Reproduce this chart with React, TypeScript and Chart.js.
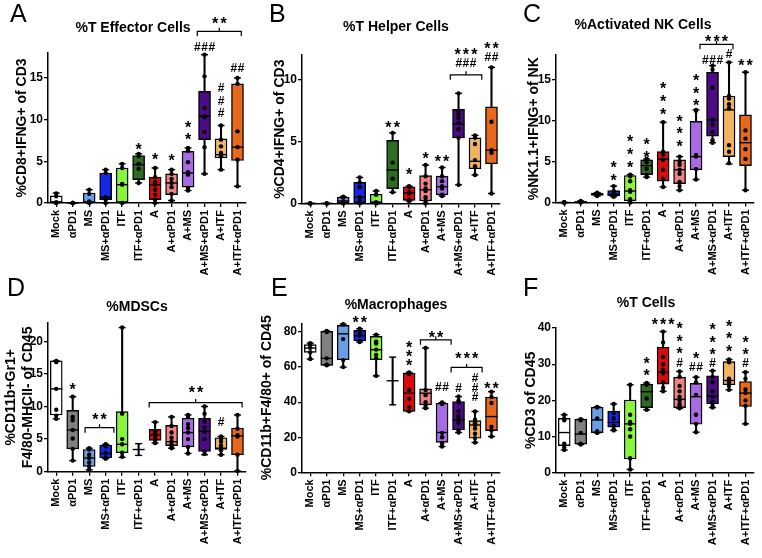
import React, { useEffect, useRef } from 'react';
import { Chart, registerables } from 'chart.js';
Chart.register(...registerables);

const FONT = '"Liberation Sans", Arial, Helvetica, sans-serif';

const categories = ['Mock', 'αPD1', 'MS', 'MS+αPD1', 'ITF', 'ITF+αPD1', 'A', 'A+αPD1', 'A+MS', 'A+MS+αPD1', 'A+ITF', 'A+ITF+αPD1'];
const boxColors = ['#ffffff', '#808080', '#6a9fe8', '#1428e6', '#86f53c', '#2f6b22', '#dc0a0a', '#ee8484', '#a96be3', '#4d0c86', '#f3b264', '#e8681e'];

// [min, q1, median, q3, max] per category
const effectorStats = [
  [0, 0, 0.1, 0.85, 1.2], [0, 0, 0, 0, 0], [0, 0, 0.1, 1.2, 1.6], [0, 0.4, 0.7, 3.6, 4.0],
  [0, 0, 2.2, 4.2, 4.7], [2.4, 2.8, 4.6, 5.7, 5.9], [0, 0.4, 2.2, 3.1, 4.2], [0.3, 1.0, 2.4, 3.5, 4.0],
  [1.5, 1.9, 3.6, 6.2, 6.6], [3.5, 7.6, 10.4, 13.4, 17.8], [4.0, 5.4, 5.8, 7.7, 9.3], [2.0, 5.1, 6.7, 14.3, 15.0],
];
const effectorPoints = [
  [1.15, 0.8, 0.1, 0], [0, 0, 0, 0], [1.6, 1.1, 0.2, 0], [4.0, 3.6, 0.7, 0.4, 0],
  [4.7, 4.2, 2.3, 2.2, 0], [5.9, 5.6, 4.7, 4.1, 2.4], [4.2, 3.1, 2.5, 2.2, 1.6, 1.0, 0.4, 0], [4.0, 3.5, 2.9, 2.4, 1.9, 1.1, 0.3],
  [6.6, 6.3, 4.9, 3.7, 3.4, 1.8, 1.5], [17.8, 15.2, 11.4, 10.4, 10.3, 8.5, 6.7, 3.5], [9.3, 7.6, 6.8, 6.0, 5.8, 5.6, 4.0], [15.0, 14.3, 8.6, 6.7, 5.2, 2.0],
];
const helperStats = [
  [0, 0, 0, 0, 0], [0, 0, 0, 0, 0], [0, 0, 0.2, 0.5, 0.55], [0, 0, 0.5, 1.7, 2.1],
  [0, 0, 0.1, 0.75, 1.0], [0.9, 1.2, 2.7, 5.1, 5.7], [0.2, 0.25, 0.85, 1.35, 1.4], [0, 0.2, 1.1, 2.25, 3.1],
  [0.6, 0.7, 1.35, 2.2, 2.9], [1.5, 5.3, 6.4, 7.6, 8.9], [2.3, 2.8, 3.4, 5.3, 5.5], [0.8, 3.2, 4.3, 7.8, 11.0],
];
const helperPoints = [
  [0, 0, 0], [0, 0, 0], [0.55, 0.45, 0.1, 0], [2.1, 1.7, 1.3, 0.5, 0.2, 0],
  [1.0, 0.7, 0.1, 0], [5.7, 3.3, 2.0, 0.9], [1.4, 1.3, 0.9, 0.8, 0.3, 0.2], [3.1, 2.2, 1.6, 1.2, 1.0, 0.5, 0.2, 0],
  [2.9, 2.2, 1.8, 1.4, 1.2, 0.7, 0.6], [8.9, 7.5, 7.2, 6.9, 6.5, 6.0, 5.3, 1.5], [5.5, 5.3, 4.8, 3.5, 3.0, 2.3], [11.0, 6.6, 4.3, 4.1, 0.8],
];
const nkStats = [
  [0, 0, 0, 0, 0], [0, 0, 0.05, 0.15, 0.2], [0.8, 0.85, 1.0, 1.15, 1.2], [0.7, 0.8, 1.0, 1.45, 2.0],
  [0, 0.2, 1.4, 3.3, 3.4], [3.1, 3.4, 4.5, 5.2, 5.3], [1.9, 2.6, 5.3, 6.2, 9.8], [1.5, 2.3, 4.0, 5.2, 5.6],
  [2.8, 4.0, 5.6, 9.9, 11.3], [7.3, 8.1, 10.1, 15.9, 16.7], [4.7, 5.6, 11.3, 13.0, 17.1], [1.5, 4.5, 7.3, 10.7, 15.9],
];
const nkPoints = [
  [0, 0, 0, 0], [0.2, 0.1, 0.05, 0], [1.2, 1.1, 1.0, 0.9, 0.8], [2.0, 1.4, 1.1, 1.0, 0.9, 0.7],
  [3.4, 3.2, 2.6, 1.5, 1.3, 0.4, 0.2, 0], [5.3, 4.9, 4.1, 3.4, 3.1], [9.8, 6.2, 5.8, 5.2, 4.0, 2.9, 1.9], [5.6, 5.0, 4.6, 4.0, 3.5, 2.5, 2.0, 1.5],
  [11.3, 11.2, 5.8, 5.6, 4.1, 2.8], [16.7, 16.2, 14.0, 10.1, 9.5, 8.6, 7.6, 7.3], [17.1, 13.0, 12.7, 12.0, 11.5, 7.0, 6.2, 4.8], [15.9, 8.8, 7.8, 6.5, 5.3, 1.5],
];
const mdscStats = [
  [8.1, 8.7, 12.7, 17.0, 17.0], [1.7, 3.5, 6.4, 9.4, 11.5], [0.3, 0.8, 2.1, 3.4, 3.6], [2.0, 2.1, 2.8, 4.1, 4.2],
  [2.2, 2.9, 4.2, 9.2, 22.1], [2.5, 3.4, 3.4, 3.4, 4.3], [4.4, 4.8, 5.6, 6.5, 7.6], [3.6, 4.0, 4.6, 7.1, 8.4],
  [2.8, 3.8, 6.0, 8.2, 8.7], [2.6, 3.1, 6.2, 8.2, 10.0], [2.6, 3.4, 3.6, 5.2, 5.4], [0.1, 2.6, 5.5, 6.7, 8.7],
];
const mdscPoints = [
  [17.0, 16.8, 12.7, 9.5, 8.6, 8.1], [11.5, 8.4, 7.9, 6.4, 5.1, 3.5, 1.7], [3.6, 3.4, 2.6, 2.1, 1.4, 0.8, 0.3], [4.2, 3.9, 2.9, 2.2, 2.0],
  [22.1, 8.9, 5.0, 4.2, 2.9, 2.3], [], [7.6, 6.2, 5.9, 5.6, 5.2, 4.8, 4.4], [8.4, 7.0, 6.0, 5.2, 4.6, 4.1, 3.8, 3.6],
  [8.7, 8.4, 7.3, 6.7, 6.0, 5.0, 3.8, 2.8], [10.0, 8.9, 7.7, 6.8, 6.1, 5.0, 3.1, 2.7], [5.4, 5.1, 4.6, 4.0, 3.6, 3.3, 2.6], [8.7, 6.6, 5.6, 5.4, 2.6, 0.1],
];
const macroStats = [
  [64.6, 68.4, 70.9, 72.8, 73.7], [61, 61, 65, 80.4, 80.6], [60, 64.2, 79, 83.8, 84.5], [74.3, 75, 77.9, 81, 81.9],
  [55, 64.2, 69.9, 77.5, 78.5], [38.5, 52.2, 52.2, 52.2, 65.7], [34.7, 34.7, 45.1, 56.6, 57], [36.6, 38.5, 45.1, 47.6, 70.9],
  [14.7, 17.1, 22.7, 39.4, 39.8], [22.7, 24.2, 29.9, 40.4, 43.2], [17, 19.4, 27, 29.5, 34.7], [20.4, 23.8, 31.8, 42.9, 46],
];
const macroPoints = [
  [73.7, 72.5, 71, 68.5, 64.6], [80.6, 80, 65, 61.5, 61], [84.5, 76, 64, 60], [81.9, 79, 78, 75, 74.3],
  [78.5, 74.5, 73.5, 70, 67, 65, 55], [], [57, 56, 47, 42, 37, 34.8], [70.9, 47, 44, 40, 38, 36.6],
  [39.8, 39, 22.5, 20, 16.5, 14.7], [43.2, 41, 40, 35, 32, 30, 28, 24, 22.7], [34.7, 30, 29, 28, 27, 25, 22, 19.5, 17], [46, 43, 39.5, 26, 24, 20.4],
];
const tcellStats = [
  [6.3, 7.5, 11.1, 15, 16], [7.8, 7.9, 10.7, 14.8, 14.8], [11, 11.1, 14.6, 18.1, 18.2], [11.7, 12.6, 13.9, 17, 19],
  [0.9, 3.8, 13.5, 20.1, 24.3], [17.4, 18, 22.4, 24.5, 24.8], [22.5, 24.5, 27.8, 34.7, 39], [17.8, 18, 20.3, 26.4, 28],
  [11.2, 13.4, 21, 24.7, 26.4], [18, 19, 21.2, 26.8, 28.2], [22.9, 24.3, 25.5, 30.7, 31.3], [13.5, 18.3, 22, 25.2, 27.8],
];
const tcellPoints = [
  [16, 15, 14.5, 8, 7, 6.3], [14.8, 14.5, 11, 8, 7.8], [18.2, 18, 15, 11.5, 11], [19, 16.5, 15, 13, 12, 11.7],
  [24.3, 16, 14, 13.5, 12, 10, 4, 0.9], [24.8, 24.3, 20.5, 17.4], [39, 36, 32, 30, 28.5, 27.5, 25, 23.5, 22.5], [28, 26.5, 24, 22.5, 21, 20, 19, 18.5, 17.8],
  [26.4, 25, 21.5, 16, 13.5, 11.2], [28.2, 26.5, 25, 22.5, 21, 19.5, 18.5, 18], [31.3, 31, 30.5, 26, 25.5, 25, 24, 22.9], [27.8, 26, 23, 22, 20, 18.5, 13.5],
];

const effectorTicks = [0, 5, 10, 15];
const helperTicks = [0, 5, 10];
const nkTicks = [0, 5, 10, 15];
const mdscTicks = [0, 5, 10, 15, 20];
const macroTicks = [0, 20, 40, 60, 80];
const tcellTicks = [0, 10, 20, 30, 40];

type Note = { i: number; v: number; t: string[] };
type Bracket = { from: number; to: number; v: number };

const effectorNotes: Note[] = [
  { i: 5, v: 6.9, t: ['*'] }, { i: 6, v: 5.66, t: ['*'] }, { i: 7, v: 5.57, t: ['*'] },
  { i: 8, v: 8.06, t: ['*', '*'] }, { i: 9, v: 18.8, t: ['###'] }, { i: 10, v: 10.8, t: ['#', '#', '#'] },
  { i: 11, v: 16.2, t: ['##'] }, { i: 9.9, v: 22.0, t: ['**'] },
];
const effectorBrackets: Bracket[] = [{ from: 8.56, to: 11.23, v: 20.6 }];
const helperNotes: Note[] = [
  { i: 5, v: 6.44, t: ['**'] }, { i: 6, v: 2.65, t: ['*'] }, { i: 7, v: 4.0, t: ['*'] },
  { i: 8, v: 3.74, t: ['**'] }, { i: 9.45, v: 11.4, t: ['***', '###'] }, { i: 11, v: 11.85, t: ['**', '##'] },
];
const helperBrackets: Bracket[] = [{ from: 8.5, to: 10.41, v: 10.4 }];
const nkNotes: Note[] = [
  { i: 3, v: 3.16, t: ['*', '*'] }, { i: 4, v: 4.8, t: ['*', '*', '*'] }, { i: 5, v: 6.0, t: ['*', '*'] },
  { i: 6, v: 11.3, t: ['*', '*', '*'] }, { i: 7, v: 7.3, t: ['*', '*', '*'] }, { i: 8, v: 12.3, t: ['*', '*', '*'] },
  { i: 9, v: 17.4, t: ['###'] }, { i: 10, v: 18.2, t: ['#'] }, { i: 11, v: 17.2, t: ['**'] },
  { i: 9.24, v: 20.2, t: ['***'] },
];
const nkBrackets: Bracket[] = [{ from: 8.24, to: 10.24, v: 19.3 }];
const mdscNotes: Note[] = [
  { i: 1, v: 13.3, t: ['*'] }, { i: 2.62, v: 8.6, t: ['**'] }, { i: 10, v: 7.7, t: ['#'] },
  { i: 8.48, v: 12.8, t: ['**'] },
];
const mdscBrackets: Bracket[] = [{ from: 1.75, to: 3.5, v: 6.75 }, { from: 5.64, to: 11.28, v: 10.6 }];
const macroNotes: Note[] = [
  { i: 3, v: 88, t: ['**'] }, { i: 6, v: 63.2, t: ['*', '*', '*'] }, { i: 7.63, v: 79.4, t: ['**'] },
  { i: 9.5, v: 67, t: ['***'] }, { i: 8, v: 48.9, t: ['##'] }, { i: 9, v: 48, t: ['#'] },
  { i: 10, v: 43.2, t: ['#', '#', '#'] }, { i: 11, v: 49.9, t: ['**'] },
];
const macroBrackets: Bracket[] = [{ from: 6.69, to: 8.55, v: 75.6 }, { from: 8.55, to: 10.43, v: 59.8 }];
const tcellNotes: Note[] = [
  { i: 5, v: 28, t: ['*', '*'] }, { i: 6, v: 42.1, t: ['***'] }, { i: 7, v: 30.5, t: ['*', '*', '*', '#'] },
  { i: 8, v: 29.2, t: ['*', '##'] }, { i: 9, v: 30.3, t: ['*', '*', '*', '#'] }, { i: 10, v: 34.7, t: ['*', '*', '*'] },
  { i: 11, v: 30.3, t: ['*', '*', '#'] },
];
const tcellBrackets: Bracket[] = [];

type Panel = {
  left: number; top: number; width: number; height: number;
  pl: number; plotL: number; plotR: number; plotT: number; plotB: number;
  max: number; ticks: number[]; yTitle: string | string[]; titlePad: number;
  title: string; titleX: number; titleY: number; letter: string; letterX: number; letterY: number;
  stats: number[][]; pts: number[][]; notes: Note[]; brackets: Bracket[]; gap: number;
};

const panels: Panel[] = [
  { left: 0, top: 0, width: 254, height: 292, pl: 10, plotL: 48, plotR: 253, plotT: 53, plotB: 203, max: 18, ticks: effectorTicks,
    yTitle: '%CD8+IFNG+ of CD3', titlePad: 4, title: '%T Effector Cells', titleX: 133, titleY: 28, letter: 'A', letterX: 10, letterY: 22,
    stats: effectorStats, pts: effectorPoints, notes: effectorNotes, brackets: effectorBrackets, gap: 12.8 },
  { left: 254, top: 0, width: 254, height: 292, pl: 14.2, plotL: 302, plotR: 507, plotT: 55, plotB: 203.4, max: 12, ticks: helperTicks,
    yTitle: '%CD4+IFNG+ of CD3', titlePad: 4, title: '%T Helper Cells', titleX: 142, titleY: 27, letter: 'B', letterX: 15, letterY: 22,
    stats: helperStats, pts: helperPoints, notes: helperNotes, brackets: helperBrackets, gap: 12.5 },
  { left: 508, top: 0, width: 254, height: 292, pl: 14.2, plotL: 556, plotR: 760, plotT: 55, plotB: 202.5, max: 18, ticks: nkTicks,
    yTitle: '%NK1.1+IFNG+ of NK', titlePad: 4, title: '%Activated NK Cells', titleX: 135, titleY: 25, letter: 'C', letterX: 15, letterY: 22,
    stats: nkStats, pts: nkPoints, notes: nkNotes, brackets: nkBrackets, gap: 12.8 },
  { left: 0, top: 266, width: 254, height: 292, pl: 0, plotL: 48, plotR: 253, plotT: 323, plotB: 471.7, max: 22.8, ticks: mdscTicks,
    yTitle: ['%CD11b+Gr1+', 'F4/80-MHCII- of CD45'], titlePad: 3, title: '%MDSCs', titleX: 137, titleY: 41, letter: 'D', letterX: 7, letterY: 30,
    stats: mdscStats, pts: mdscPoints, notes: mdscNotes, brackets: mdscBrackets, gap: 12.5 },
  { left: 254, top: 266, width: 254, height: 292, pl: 0.6, plotL: 302, plotR: 507, plotT: 323.3, plotB: 472.3, max: 85, ticks: macroTicks,
    yTitle: '%CD11b+F4/80+ of CD45', titlePad: 4, title: '%Macrophages', titleX: 142, titleY: 39, letter: 'E', letterX: 17, letterY: 30,
    stats: macroStats, pts: macroPoints, notes: macroNotes, brackets: macroBrackets, gap: 9.3 },
  { left: 508, top: 266, width: 254, height: 292, pl: 10.6, plotL: 556, plotR: 760, plotT: 328, plotB: 472.7, max: 40, ticks: tcellTicks,
    yTitle: '%CD3 of CD45', titlePad: 4, title: '%T Cells', titleX: 138, titleY: 37, letter: 'F', letterX: 15, letterY: 30,
    stats: tcellStats, pts: tcellPoints, notes: tcellNotes, brackets: tcellBrackets, gap: 12.5 },
];

function drawMark(ctx: CanvasRenderingContext2D, s: string, cx: number, cy: number) {
  const n = s.length;
  const star = s[0] === '*';
  const fs = star ? 16 : 12;
  const sp = star ? 8.3 : 7.2;
  ctx.font = `bold ${fs}px ${FONT}`;
  ctx.textAlign = 'center';
  ctx.textBaseline = 'alphabetic';
  const off = star ? 0.6 * fs : 0.36 * fs;
  for (let k = 0; k < n; k++) ctx.fillText(s[k], cx - ((n - 1) * sp) / 2 + k * sp, cy + off);
}

function makePlugin(p: Panel) {
  return {
    id: 'panelDecor',
    afterDatasetsDraw(chart: any) {
      const ctx: CanvasRenderingContext2D = chart.ctx;
      const x = chart.scales.x;
      const y = chart.scales.y;
      ctx.save();
      ctx.fillStyle = '#000';
      ctx.strokeStyle = '#000';
      ctx.font = `25px ${FONT}`;
      ctx.textAlign = 'left';
      ctx.textBaseline = 'alphabetic';
      ctx.fillText(p.letter, p.letterX, p.letterY);
      ctx.font = `bold 14px ${FONT}`;
      ctx.textAlign = 'center';
      ctx.textBaseline = 'middle';
      ctx.fillText(p.title, p.titleX, p.titleY);
      ctx.lineWidth = 1.2;
      for (const b of p.brackets) {
        const x1 = x.getPixelForValue(b.from);
        const x2 = x.getPixelForValue(b.to);
        const yy = y.getPixelForValue(b.v);
        const xm = (x1 + x2) / 2;
        ctx.beginPath();
        ctx.moveTo(x1, yy + 5);
        ctx.lineTo(x1, yy);
        ctx.lineTo(x2, yy);
        ctx.lineTo(x2, yy + 5);
        ctx.moveTo(xm, yy);
        ctx.lineTo(xm, yy - 3.5);
        ctx.stroke();
      }
      for (const n of p.notes) {
        const cx = x.getPixelForValue(n.i);
        let cy = y.getPixelForValue(n.v);
        for (let k = n.t.length - 1; k >= 0; k--) {
          drawMark(ctx, n.t[k], cx, cy);
          cy -= p.gap;
        }
      }
      ctx.restore();
    },
  };
}

function PanelChart({ p }: { p: Panel }) {
  const ref = useRef<HTMLCanvasElement>(null);
  useEffect(() => {
    if (!ref.current) return;
    const padTop = p.plotT - p.top;
    const yW = p.plotL - p.left - p.pl;
    const padRight = p.left + p.width - p.plotR;
    const xH = p.top + p.height - p.plotB;
    const whiskers = p.stats.map((s) => [s[0], s[4]]);
    const boxes = p.stats.map((s) => [s[1], s[3]]);
    const caps = p.stats.flatMap((s, i) => [{ x: categories[i], y: s[0] }, { x: categories[i], y: s[4] }]);
    const medians = p.stats.map((s, i) => ({ x: categories[i], y: s[2] }));
    const dots = p.pts.flatMap((arr, i) => arr.map((v) => ({ x: categories[i], y: v })));
    const tickFont = { family: FONT, size: 12, weight: 'bold' as const };
    const chart = new Chart(ref.current, {
      type: 'bar',
      data: {
        labels: categories,
        datasets: [
          { type: 'line', data: dots, showLine: false, pointStyle: 'circle', pointRadius: 2.2, pointBackgroundColor: '#000', pointBorderWidth: 0, order: 1, clip: false } as any,
          { type: 'line', data: medians, showLine: false, pointStyle: 'line', pointRadius: 6, pointBorderColor: '#000', pointBorderWidth: 1.4, order: 2, clip: false } as any,
          { type: 'line', data: caps, showLine: false, pointStyle: 'line', pointRadius: 3.5, pointBorderColor: '#000', pointBorderWidth: 1.4, order: 3, clip: false } as any,
          { type: 'bar', data: boxes, backgroundColor: boxColors, borderColor: '#000', borderWidth: 1.4, borderSkipped: false, barThickness: 12, grouped: false, order: 4 } as any,
          { type: 'bar', data: whiskers, backgroundColor: '#000', borderWidth: 0, barThickness: 1.4, grouped: false, order: 5 } as any,
        ],
      },
      options: {
        responsive: false,
        animation: false,
        devicePixelRatio: 1,
        events: [],
        layout: { padding: { left: p.pl, top: padTop, right: padRight, bottom: 0 } },
        plugins: { legend: { display: false }, tooltip: { enabled: false }, title: { display: false } },
        scales: {
          x: {
            type: 'category',
            offset: true,
            grid: { offset: false, drawOnChartArea: false, drawTicks: true, tickLength: 4, color: '#000', lineWidth: 1.3 },
            border: { display: true, color: '#000', width: 1.5 },
            ticks: { autoSkip: false, maxRotation: 90, minRotation: 90, font: { family: FONT, size: 11, weight: 'bold' }, color: '#000', padding: 3 },
            afterFit: (s: any) => { s.height = xH; },
          },
          y: {
            type: 'linear',
            min: 0,
            max: p.max,
            afterBuildTicks: (s: any) => { s.ticks = p.ticks.map((v) => ({ value: v })); },
            grid: { drawOnChartArea: false, drawTicks: true, tickLength: 4, color: '#000', lineWidth: 1.3 },
            border: { display: true, color: '#000', width: 1.5 },
            ticks: { font: tickFont, color: '#000', padding: 1 },
            title: { display: true, text: p.yTitle, font: { family: FONT, size: 14, weight: 'bold' }, color: '#000', padding: { top: p.titlePad, bottom: 4 } },
            afterFit: (s: any) => { s.width = yW; },
          },
        },
      } as any,
      plugins: [makePlugin(p)],
    });
    return () => chart.destroy();
  }, [p]);
  return (
    <canvas
      ref={ref}
      width={p.width}
      height={p.height}
      style={{ position: 'absolute', left: p.left, top: p.top, width: p.width, height: p.height, display: 'block' }}
    />
  );
}

export default function App() {
  return (
    <div style={{ position: 'absolute', left: 0, top: 0, width: 762, height: 558, background: '#fff', overflow: 'hidden' }}>
      {panels.map((p) => (
        <PanelChart key={p.letter} p={p} />
      ))}
    </div>
  );
}
